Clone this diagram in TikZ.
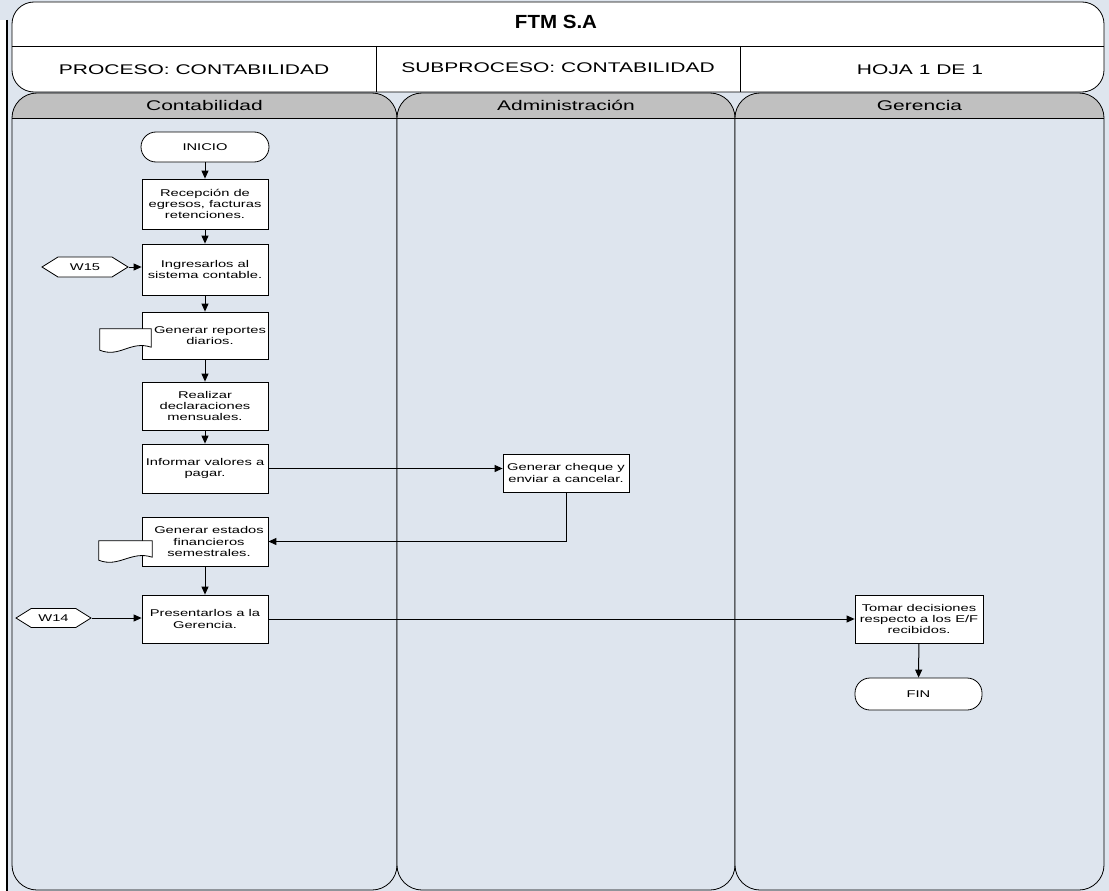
\documentclass[tikz,border=0pt]{standalone}
\usepackage{fontspec}
\setmainfont{Liberation Sans}[FakeStretch=1.5]
\usetikzlibrary{arrows.meta,shapes.symbols,calc}
\definecolor{lanebg}{RGB}{222,229,238}
\definecolor{lanehead}{RGB}{192,192,192}
\begin{document}
\begin{tikzpicture}[x=1pt,y=1pt,
  every node/.style={font=\fontsize{9.8}{11.4}\selectfont},
  proc/.style={draw, fill=white, line width=0.8pt, minimum width=126pt, minimum height=48pt, inner sep=1pt, align=center},
  term/.style={draw, fill=white, line width=0.8pt, rounded corners=15pt, minimum width=128pt, minimum height=30pt, inner sep=1pt},
  hexa/.style={draw, fill=white, line width=0.8pt, signal, signal to=east and west, signal pointer angle=64, minimum height=20pt, inner sep=1pt},
  docbox/.style={inner sep=0pt, minimum width=51pt, minimum height=23pt},
  docline/.style={draw, fill=white, line width=0.8pt},
  conn/.style={line width=1pt, -{Triangle[length=8pt,width=7pt]}},
  laneline/.style={line width=0.8pt},
  hdrtext/.style={font=\fontsize{14}{16}\selectfont},
  lanetitle/.style={font=\fontsize{14}{16}\selectfont}
]
\useasboundingbox (0,0) rectangle (1109,-891);
% background
\fill[lanebg] (0,0) rectangle (1109,-891);
\fill[white] (0,-20) rectangle (7,-891);
\draw[line width=1.8pt] (7,-20) -- (7,-891);

% lanes
\foreach \xa/\xb/\nm/\i in {12/397/Contabilidad/1, 397/735/Administración/2, 735/1104/Gerencia/3} {
  \begin{scope}
    \clip[rounded corners=25pt] (\xa,-93) rectangle (\xb,-890);
    \fill[lanebg] (\xa,-93) rectangle (\xb,-890);
    \fill[lanehead] (\xa,-93) rectangle (\xb,-118);
  \end{scope}
  \draw[laneline] (\xa,-118) -- (\xb,-118);
  \draw[laneline, rounded corners=25pt] (\xa,-93) rectangle (\xb,-890);
  \node[lanetitle] (lane\i) at ({(\xa+\xb)/2},-105.5) {\nm};
}

% header
\draw[line width=0.8pt, fill=white, rounded corners=22pt] (12,-2) rectangle (1104,-92);
\draw[line width=0.8pt] (12,-46) -- (1104,-46);
\draw[line width=0.8pt] (376,-46) -- (376,-92);
\draw[line width=0.8pt] (740,-46) -- (740,-92);
\node[font=\fontsize{19}{22}\selectfont\bfseries\addfontfeature{FakeStretch=1.08}] (title) at (556,-22) {FTM S.A};
\node[hdrtext] (proc) at (194,-70) {PROCESO: CONTABILIDAD};
\node[hdrtext] (subp) at (558,-68) {SUBPROCESO: CONTABILIDAD};
\node[hdrtext] (hoja) at (920,-70) {HOJA 1 DE 1};

% nodes
\node[term] (ini) at (205,-147) {INICIO};
\node[proc, minimum height=50pt] (rec) at (205,-204) {Recepción de\\egresos, facturas\\retenciones.};
\node[proc, minimum height=51pt] (ing) at (205,-269.5) {Ingresarlos al\\sistema contable.};
\node[proc, minimum height=47pt] (rep) at (205,-335.5) {\hspace*{10pt}Generar reportes\\\hspace*{10pt}diarios.};
\node[proc] (real) at (205,-406) {Realizar\\declaraciones\\mensuales.};
\node[proc, minimum height=49pt] (inf) at (205,-468.5) {Informar valores a\\pagar.};
\node[proc, minimum height=49pt] (est) at (205,-541.5) {\hspace*{8pt}Generar estados\\\hspace*{8pt}financieros\\\hspace*{8pt}semestrales.};
\node[proc] (pres) at (205,-619) {Presentarlos a la\\Gerencia.};
\node[proc, minimum height=38pt] (cheq) at (566,-473) {Generar cheque y\\enviar a cancelar.};
\node[proc, minimum width=128pt] (tom) at (919,-619) {Tomar decisiones\\respecto a los E/F\\recibidos.};
\node[term, minimum width=127pt, minimum height=32pt] (fin) at (918.5,-694) {FIN};

\node[hexa, minimum width=86pt] (w15) at (85,-267) {W15};
\node[hexa, minimum width=75pt, minimum height=19pt] (w14) at (53.5,-618) {W14};

% document symbols
\node[docbox] (repdoc) at (125.5,-340.5) {};
\path[docline] (repdoc.north west) -- (repdoc.north east) -- ([yshift=5pt]repdoc.south east)
  .. controls +(-21,7) and +(20,-8) .. ([yshift=2pt]repdoc.south west) -- cycle;
\node[docbox, minimum width=53pt, minimum height=21pt] (estdoc) at (125.5,-551.5) {};
\path[docline] (estdoc.north west) -- (estdoc.north east) -- ([yshift=5pt]estdoc.south east)
  .. controls +(-21,7) and +(20,-8) .. ([yshift=2pt]estdoc.south west) -- cycle;

% connectors
\draw[conn] (ini) -- (rec);
\draw[conn] (rec) -- (ing);
\draw[conn] (ing) -- (rep);
\draw[conn] (rep) -- (real);
\draw[conn] (real) -- (inf);
\draw[conn] (est) -- (pres);
\draw[conn] (w15.east) -- (w15.east -| ing.west);
\draw[conn] (inf.east) -- (inf.east -| cheq.west);
\draw[conn] (cheq.south) |- (est.east);
\draw[conn] (w14.east) -- (w14.east -| pres.west);
\draw[conn] (pres.east) -- (pres.east -| tom.west);
\draw[conn] (tom) -- (fin);
\end{tikzpicture}
\end{document}
